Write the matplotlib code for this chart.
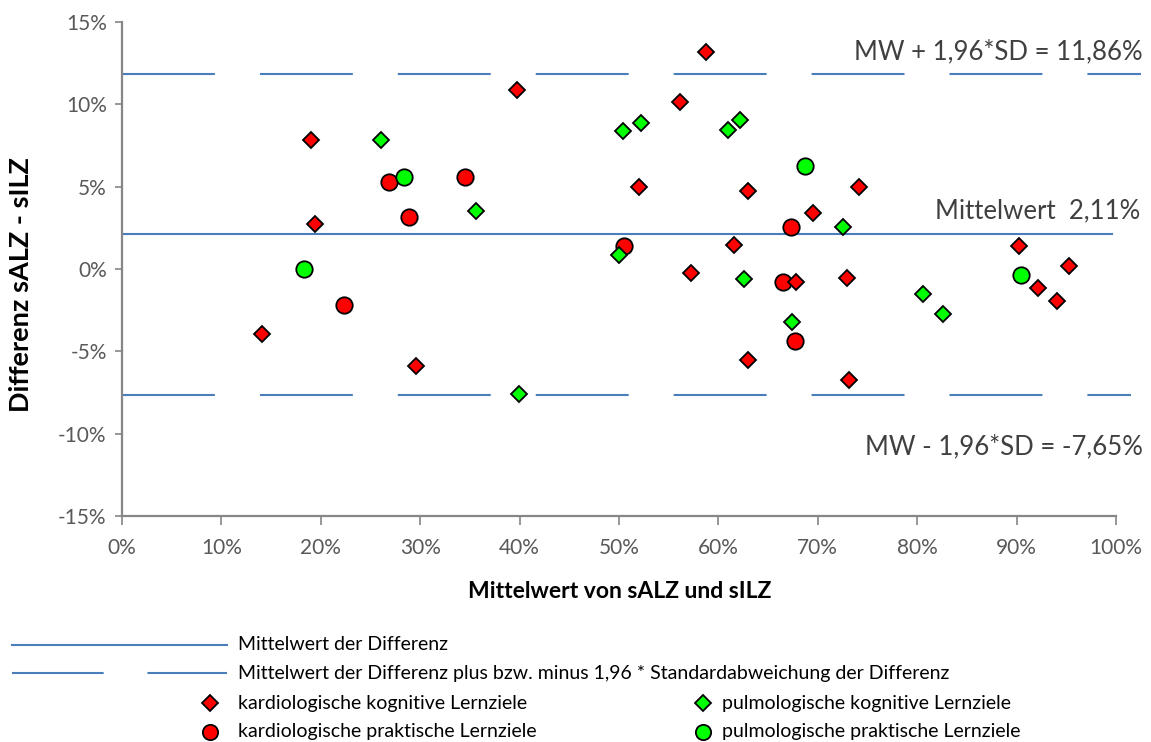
import matplotlib.pyplot as plt
from matplotlib.lines import Line2D

# Bland-Altman: Mittelwert von sALZ und sILZ (x) gegen Differenz sALZ - sILZ (y), jeweils in %
kard_kog_x = [14.05, 19.0, 19.45, 29.6, 39.77, 58.75, 56.14, 51.98, 57.2, 62.95, 61.57,
              62.95, 69.55, 67.78, 72.97, 73.14, 74.14, 90.27, 92.12, 94.09, 95.3]
kard_kog_y = [-3.95, 7.85, 2.73, -5.92, 10.89, 13.18, 10.17, 4.98, -0.24, 4.71, 1.48,
              -5.51, 3.40, -0.79, -0.55, -6.73, 5.0, 1.37, -1.15, -1.93, 0.16]

kard_prak_x = [22.36, 26.89, 28.9, 34.54, 50.5, 67.27, 66.47, 67.7]
kard_prak_y = [-2.17, 5.29, 3.13, 5.59, 1.37, 2.53, -0.79, -4.36]

pulm_kog_x = [26.03, 35.6, 39.97, 49.97, 50.37, 52.18, 61.0, 62.17, 62.57, 72.57,
              67.37, 80.55, 82.56]
pulm_kog_y = [7.86, 3.5, -7.59, 0.87, 8.36, 8.87, 8.46, 9.07, -0.59, 2.53,
              -3.22, -1.52, -2.73]

pulm_prak_x = [18.34, 28.34, 68.71, 90.41]
pulm_prak_y = [0.02, 5.59, 6.28, -0.35]

mw = 2.11
mw_plus = 11.86
mw_minus = -7.65

x_ticks = list(range(0, 101, 10))
y_ticks = list(range(-15, 16, 5))

blau = '#4A7EBB'
rot = '#FF0000'
gruen = '#00FF00'
grau = '#868686'
text_farbe = '#404040'

plt.rcParams['font.family'] = ['Lato', 'DejaVu Sans']

W, H = 1151, 742
fig = plt.figure(figsize=(W / 100, H / 100), dpi=100)
ax = fig.add_axes([122 / W, 1 - 516 / H, (1116 - 122) / W, (516 - 22) / H])

ax.set_xlim(0, 100)
ax.set_ylim(-15, 15)
ax.set_xticks(x_ticks)
ax.set_yticks(y_ticks)
ax.set_xticklabels([f'{v}%' for v in x_ticks])
ax.set_yticklabels([f'{v}%' for v in y_ticks])
for s in ['top', 'right']:
    ax.spines[s].set_visible(False)
for s in ['left', 'bottom']:
    ax.spines[s].set_color(grau)
    ax.spines[s].set_linewidth(1.6)
ax.tick_params(axis='both', colors=grau, labelcolor='#595959', labelsize=15, width=1.2)
ax.tick_params(axis='y', length=5, pad=6)
ax.tick_params(axis='x', length=6.5, pad=9)

# Mittelwert und Grenzen der Übereinstimmung
strich = (44.6, 21.6)
ax.plot([0, 99.6], [mw, mw], color=blau, lw=1.5, zorder=2)
ax.plot([0, 102.5], [mw_plus, mw_plus], color=blau, lw=1.5, dashes=strich,
        clip_on=False, zorder=2)
ax.plot([0, 101.5], [mw_minus, mw_minus], color=blau, lw=1.5, dashes=strich,
        clip_on=False, zorder=2)

kreis = dict(ls='none', marker='o', ms=11.8, mec='black', mew=1.3, zorder=3)
raute = dict(ls='none', marker='D', ms=8.4, mec='black', mew=1.3, zorder=3)
ax.plot(kard_prak_x, kard_prak_y, mfc=rot, **kreis)
ax.plot(pulm_prak_x, pulm_prak_y, mfc=gruen, **kreis)
ax.plot(kard_kog_x, kard_kog_y, mfc=rot, **raute)
ax.plot(pulm_kog_x, pulm_kog_y, mfc=gruen, **raute)

# Beschriftung der Linien
tkw = dict(ha='right', va='center', fontsize=18.5, color=text_farbe)
fig.text(1143 / W, 1 - 52 / H, f'MW + 1,96*SD = {mw_plus:.2f}%'.replace('.', ','), **tkw)
fig.text(1140 / W, 1 - 211 / H, f'Mittelwert  {mw:.2f}%'.replace('.', ','), **tkw)
fig.text(1143 / W, 1 - 447 / H, f'MW - 1,96*SD = {mw_minus:.2f}%'.replace('.', ','), **tkw)

fig.text(620 / W, 1 - 592 / H, 'Mittelwert von sALZ und sILZ', ha='center', va='center',
         fontsize=16.5, fontweight='bold', color='black')
fig.text(21 / W, 1 - 285 / H, 'Differenz sALZ - sILZ', ha='center', va='center',
         rotation=90, fontsize=19.5, fontweight='bold', color='black')

# Legende unter dem Diagramm
lg = fig.add_axes([0, 0, 1, 1])
lg.set_xlim(0, W)
lg.set_ylim(H, 0)
lg.axis('off')
lg.add_line(Line2D([12, 227], [645, 645], color=blau, lw=1.5))
lg.add_line(Line2D([12, 227], [673, 673], color=blau, lw=1.5, dashes=(44, 21)))
lkw = dict(ha='left', va='center', fontsize=14, color='black')
lg.text(238, 645, 'Mittelwert der Differenz', **lkw)
lg.text(238, 673, 'Mittelwert der Differenz plus bzw. minus 1,96 * Standardabweichung der Differenz', **lkw)
eintraege = [
    (210, 703, 'D', rot, 'kardiologische kognitive Lernziele'),
    (703, 703, 'D', gruen, 'pulmologische kognitive Lernziele'),
    (210, 732, 'o', rot, 'kardiologische praktische Lernziele'),
    (703, 732, 'o', gruen, 'pulmologische praktische Lernziele'),
]
for mx, my, m, c, label in eintraege:
    ms = 8.0 if m == 'D' else 11.0
    lg.add_line(Line2D([mx], [my], ls='none', marker=m, ms=ms, mfc=c, mec='black', mew=1.3))
    lg.text(mx + 28 if mx < 500 else mx + 19, my, label, **lkw)

fig.savefig('out.png', dpi=100)
